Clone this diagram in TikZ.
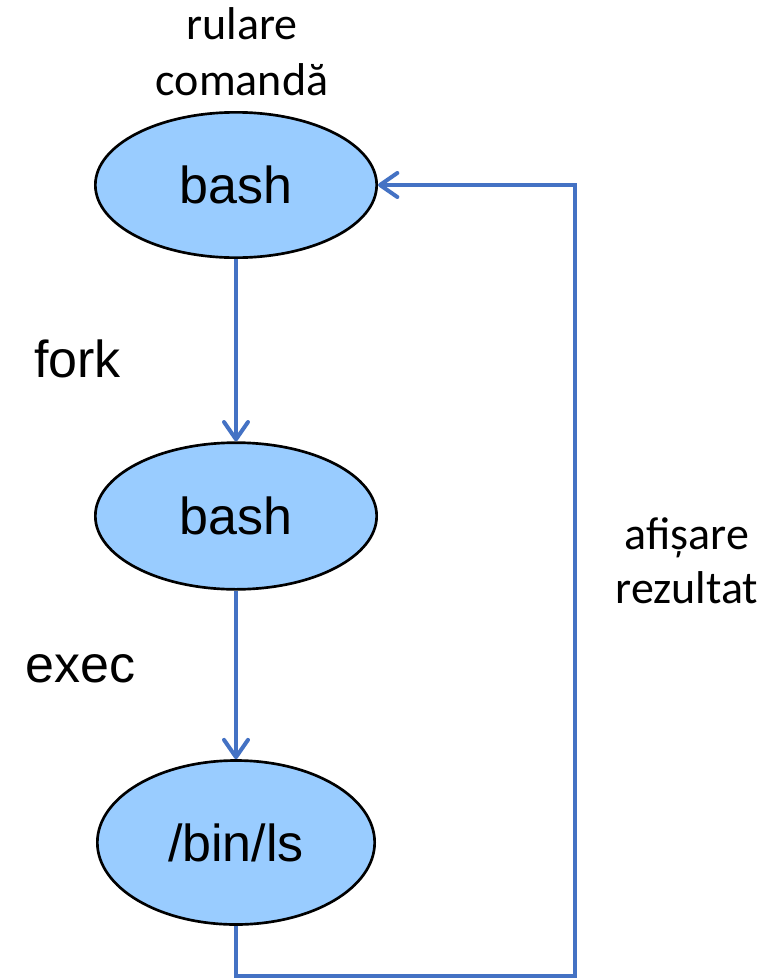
\documentclass[tikz,border=0pt]{standalone}
\usepackage{fontspec}
\setmainfont{Liberation Sans}
\newfontfamily\calib{Carlito}
\usetikzlibrary{shapes.geometric,arrows.meta}
\definecolor{linkblue}{RGB}{68,114,196}
\definecolor{procfill}{RGB}{153,204,255}
\tikzset{
  proc/.style={ellipse, draw=black, line width=2pt, fill=procfill, inner sep=0pt,
    font=\fontsize{39}{45}\selectfont},
  link/.style={draw=linkblue, line width=3pt,
    -{Straight Barb[length=13pt, width=18pt, line width=3pt, line join=round, line cap=round]}},
  lbl/.style={font=\fontsize{39}{45}\selectfont, anchor=base, inner sep=0pt},
  note/.style={font=\calib\fontsize{34.5}{40}\selectfont, anchor=base, inner sep=0pt}
}
\begin{document}
\begin{tikzpicture}[x=0.75pt, y=-0.75pt]
\useasboundingbox (0,0) rectangle (774,978);
\node[proc, minimum width=211pt, minimum height=109pt] (e1) at (236,185) {bash};
\node[proc, minimum width=211pt, minimum height=110pt] (e2) at (236,516) {bash};
\node[proc, minimum width=208pt, minimum height=123pt] (e3) at (236,842.5) {/bin/ls};
\node[note] (r1) at (242,39) {rulare};
\node[note] (r2) at (242,95) {comandă};
\node[note] (a1) at (687,549) {afișare};
\node[note] (a2) at (687,603) {rezultat};
\node[lbl] (fk) at (77.5,377) {fork};
\node[lbl] (ex) at (80.5,682) {exec};
\coordinate (br) at (575,975.5);
\draw[link] (e1.south) -- (e2.north);
\draw[link] (e2.south) -- (e3.north);
\draw[link] (e3.south) |- (br) |- (e1.east);
\end{tikzpicture}
\end{document}
